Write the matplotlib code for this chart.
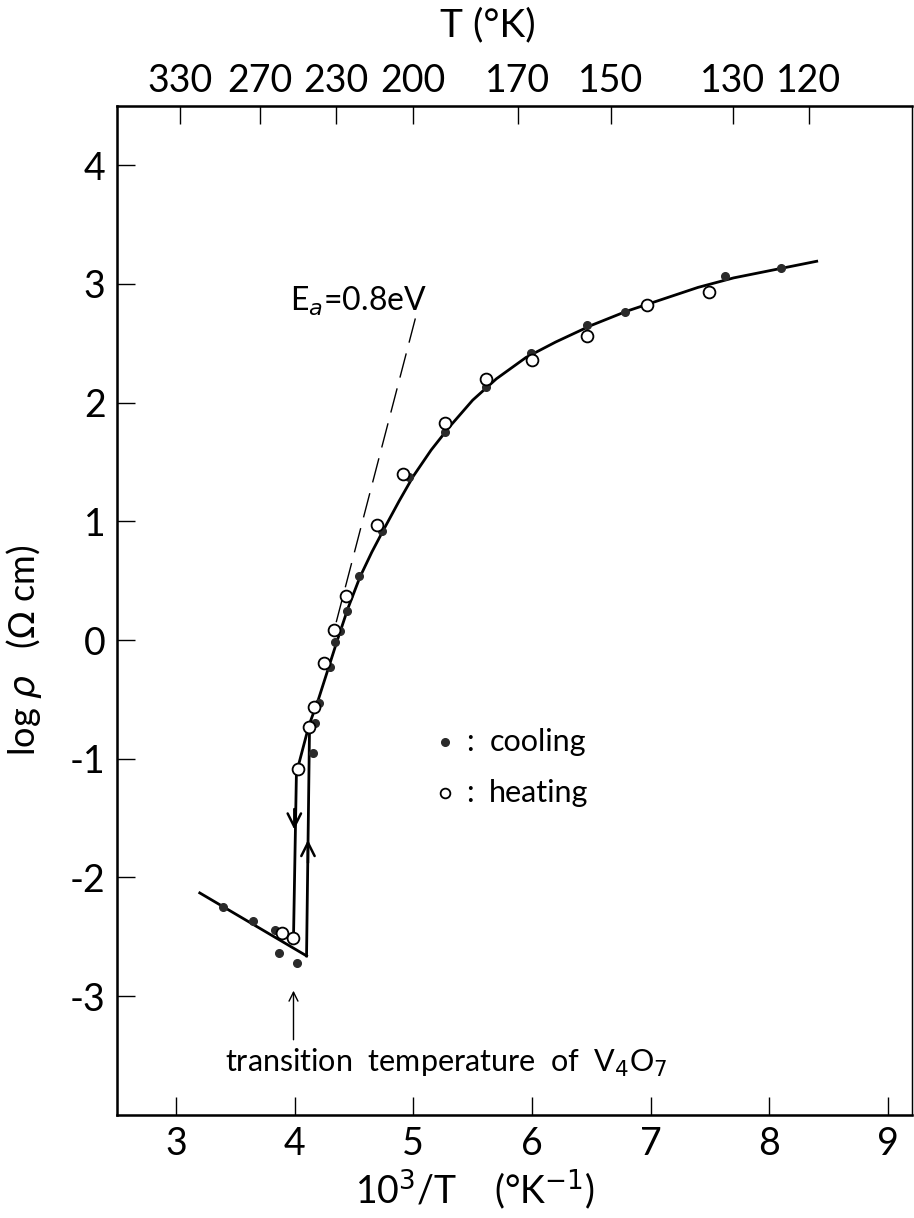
import matplotlib
matplotlib.use("Agg")
import matplotlib.pyplot as plt
import numpy as np

plt.rcParams['font.family'] = ['Lato', 'DejaVu Sans']
plt.rcParams['mathtext.fontset'] = 'dejavusans'

# data (x = 10^3/T, y = log rho)
cool_x = [3.40, 3.645, 3.83, 3.87, 4.02, 4.151, 4.174, 4.207, 4.297, 4.34, 4.384,
          4.44, 4.544, 4.735, 4.965, 5.27, 5.61, 5.996, 6.468, 6.78, 7.63, 8.10]
cool_y = [-2.25, -2.37, -2.44, -2.64, -2.72, -0.95, -0.70, -0.53, -0.225, -0.02, 0.078,
          0.247, 0.54, 0.92, 1.37, 1.756, 2.13, 2.42, 2.65, 2.76, 3.07, 3.13]

heat_x = [3.89, 3.99, 4.03, 4.123, 4.165, 4.243, 4.328, 4.432, 4.69, 4.917,
          5.266, 5.61, 6.004, 6.468, 6.97, 7.49]
heat_y = [-2.47, -2.51, -1.09, -0.73, -0.56, -0.19, 0.084, 0.373, 0.97, 1.40,
          1.83, 2.20, 2.36, 2.56, 2.82, 2.93]

# drawn curve
curve_x = [4.02, 4.12, 4.20, 4.28, 4.36, 4.45, 4.55, 4.65, 4.75, 4.88, 5.0, 5.15,
           5.3, 5.5, 5.7, 5.95, 6.2, 6.5, 6.8, 7.1, 7.4, 7.7, 8.0, 8.2, 8.4]
curve_y = [-1.10, -0.72, -0.50, -0.25, 0.0, 0.27, 0.53, 0.74, 0.93, 1.17, 1.38, 1.60,
           1.79, 2.02, 2.20, 2.38, 2.51, 2.65, 2.77, 2.87, 2.97, 3.05, 3.11, 3.15, 3.19]

low_x = [3.2, 4.10]
low_y = [-2.13, -2.66]
heat_drop_x = [3.99, 4.015]
heat_drop_y = [-2.51, -1.10]
cool_rise_x = [4.10, 4.125]
cool_rise_y = [-2.66, -0.75]
ea_x = [4.35, 5.02]
ea_y = [0.15, 2.72]

T_top = [330, 270, 230, 200, 170, 150, 130, 120]
x_ticks = [3, 4, 5, 6, 7, 8, 9]
y_ticks = [-3, -2, -1, 0, 1, 2, 3, 4]

fig = plt.figure(figsize=(9.14, 12.18), dpi=100)
ax = fig.add_axes([0.1277, 0.0846, 0.8697, 0.8286])

ax.plot(curve_x, curve_y, color='black', lw=2.0)
ax.plot(low_x, low_y, color='black', lw=2.0)
ax.plot(heat_drop_x, heat_drop_y, color='black', lw=2.0)
ax.plot(cool_rise_x, cool_rise_y, color='black', lw=2.0)
ax.plot(ea_x, ea_y, color='black', lw=1.0, dashes=(18, 8))

ax.plot(cool_x, cool_y, 'o', color='#2a2a2a', ms=5.5, zorder=4)
ax.plot(heat_x, heat_y, 'o', mfc='white', mec='black', mew=1.3, ms=8.5, zorder=5)

# arrowheads on the hysteresis lines
ax.annotate('', xy=(3.997, -1.62), xytext=(3.997, -1.40),
            arrowprops=dict(arrowstyle='->', lw=1.8, mutation_scale=24, color='black'))
ax.annotate('', xy=(4.112, -1.66), xytext=(4.112, -1.90),
            arrowprops=dict(arrowstyle='->', lw=1.8, mutation_scale=24, color='black'))

# transition arrow
ax.annotate('', xy=(3.99, -2.93), xytext=(3.99, -3.39),
            arrowprops=dict(arrowstyle='->', lw=1.0, mutation_scale=16, color='black'))
ax.text(3.41, -3.56, 'transition  temperature  of  V$_4$O$_7$', fontsize=22,
        ha='left', va='center')

ax.text(5.12, 2.85, 'E$_a$=0.8eV', fontsize=23, ha='right', va='center')

# legend drawn by hand
ax.plot([5.27], [-0.86], 'o', color='#2a2a2a', ms=5.5)
ax.plot([5.27], [-1.29], 'o', mfc='white', mec='black', mew=1.3, ms=7)
ax.text(5.48, -0.86, ':', fontsize=22, ha='center', va='center')
ax.text(5.48, -1.29, ':', fontsize=22, ha='center', va='center')
ax.text(5.64, -0.86, 'cooling', fontsize=22, ha='left', va='center')
ax.text(5.64, -1.29, 'heating', fontsize=22, ha='left', va='center')

ax.set_xlim(2.5, 9.2)
ax.set_ylim(-4.0, 4.5)
ax.set_xticks(x_ticks)
ax.set_xticklabels([str(v) for v in x_ticks])
ax.set_yticks(y_ticks)
ax.set_yticklabels([str(v) for v in y_ticks])
ax.tick_params(direction='in', length=13, width=1.0, labelsize=27, pad=8)
ax.tick_params(axis='x', pad=8)

for s in ['left', 'bottom', 'top']:
    ax.spines[s].set_linewidth(1.8)
ax.spines['right'].set_linewidth(1.0)

ax2 = ax.twiny()
ax2.set_xlim(ax.get_xlim())
ax2.set_xticks([1000.0 / t for t in T_top])
ax2.set_xticklabels([str(t) for t in T_top])
ax2.tick_params(direction='in', length=13, width=1.0, labelsize=27, pad=5)

ax.set_ylabel(r'log $\rho$   ($\Omega$ cm)', fontsize=26)
ax.yaxis.set_label_coords(-0.092, 0.46)
fig.text(475 / 914, 1 - 1190 / 1218, '10$^3$/T    (°K$^{-1}$)', fontsize=27,
         ha='center', va='center')
fig.text(488 / 914, 1 - 25 / 1218, 'T (°K)', fontsize=28, ha='center', va='center')

fig.savefig('out.png', dpi=100)
